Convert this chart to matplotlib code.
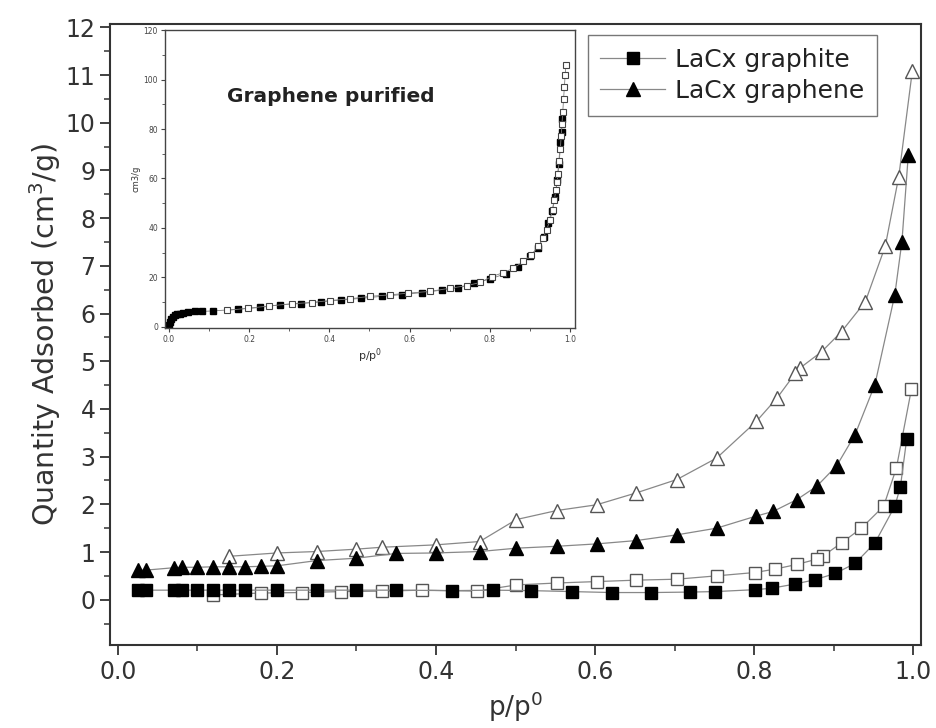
import matplotlib
matplotlib.use('Agg')
import matplotlib.pyplot as plt
from matplotlib.ticker import MultipleLocator

plt.rcParams['mathtext.default'] = 'regular'

# LaCx graphite: adsorption (filled) and desorption (open)
graphite_ads_p = [0.025, 0.035, 0.07, 0.08, 0.10, 0.12, 0.14, 0.16, 0.20, 0.25, 0.30, 0.35,
                  0.42, 0.472, 0.52, 0.571, 0.621, 0.671, 0.72, 0.751, 0.801, 0.822, 0.852,
                  0.877, 0.902, 0.927, 0.952, 0.977, 0.984, 0.992]
graphite_ads_v = [0.2, 0.2, 0.2, 0.2, 0.2, 0.2, 0.2, 0.2, 0.2, 0.2, 0.2, 0.2,
                  0.19, 0.2, 0.19, 0.17, 0.15, 0.15, 0.16, 0.17, 0.21, 0.24, 0.33,
                  0.42, 0.55, 0.76, 1.19, 1.96, 2.36, 3.37]
graphite_des_p = [0.998, 0.979, 0.963, 0.935, 0.91, 0.887, 0.879, 0.854, 0.826, 0.801,
                  0.753, 0.703, 0.652, 0.602, 0.552, 0.501, 0.451, 0.382, 0.332, 0.281,
                  0.231, 0.18, 0.12]
graphite_des_v = [4.42, 2.76, 1.96, 1.5, 1.19, 0.92, 0.85, 0.74, 0.64, 0.57,
                  0.5, 0.43, 0.41, 0.38, 0.35, 0.31, 0.18, 0.2, 0.18, 0.17,
                  0.15, 0.14, 0.1]

# LaCx graphene: adsorption (filled) and desorption (open)
graphene_ads_p = [0.025, 0.035, 0.07, 0.08, 0.10, 0.12, 0.14, 0.16, 0.18, 0.20, 0.25, 0.30,
                  0.35, 0.40, 0.455, 0.501, 0.552, 0.602, 0.652, 0.703, 0.753, 0.802,
                  0.824, 0.854, 0.879, 0.904, 0.927, 0.952, 0.977, 0.986, 0.994]
graphene_ads_v = [0.62, 0.62, 0.67, 0.68, 0.68, 0.69, 0.69, 0.69, 0.7, 0.71, 0.82, 0.87,
                  0.97, 0.98, 1.01, 1.08, 1.12, 1.17, 1.24, 1.36, 1.5, 1.75,
                  1.85, 2.1, 2.38, 2.81, 3.46, 4.51, 6.39, 7.51, 9.33]
graphene_des_p = [0.999, 0.982, 0.965, 0.94, 0.91, 0.885, 0.858, 0.852, 0.829, 0.803,
                  0.753, 0.703, 0.652, 0.602, 0.552, 0.501, 0.455, 0.40, 0.332, 0.30,
                  0.25, 0.20, 0.14]
graphene_des_v = [11.08, 8.87, 7.41, 6.25, 5.62, 5.2, 4.86, 4.75, 4.23, 3.74,
                  2.97, 2.52, 2.24, 1.99, 1.87, 1.68, 1.22, 1.15, 1.1, 1.06,
                  1.01, 0.98, 0.91]

# Inset: purified graphene isotherm (cm3/g)
inset_ads_p = [0.001, 0.003, 0.006, 0.01, 0.015, 0.02, 0.027, 0.035, 0.048, 0.065, 0.081,
               0.11, 0.173, 0.227, 0.277, 0.33, 0.38, 0.43, 0.48, 0.53, 0.58, 0.63, 0.68,
               0.72, 0.76, 0.80, 0.84, 0.87, 0.90, 0.92, 0.935, 0.946, 0.955, 0.963,
               0.968, 0.972, 0.976, 0.979, 0.981]
inset_ads_v = [0.5, 2.0, 3.2, 4.0, 4.6, 5.0, 5.3, 5.6, 6.0, 6.2, 6.2,
               6.4, 7.1, 7.8, 8.9, 9.4, 10.1, 10.8, 11.5, 12.3, 13.0, 13.8, 14.8,
               15.6, 17.5, 19.3, 21.5, 24.0, 28.5, 32.0, 36.5, 41.9, 47.0, 52.6,
               59.4, 66.0, 74.9, 78.9, 84.0]
inset_des_p = [0.99, 0.988, 0.986, 0.984, 0.982, 0.98, 0.978, 0.976, 0.973, 0.970,
               0.968, 0.965, 0.961, 0.957, 0.95, 0.942, 0.933, 0.921, 0.904, 0.884,
               0.859, 0.834, 0.805, 0.776, 0.742, 0.701, 0.651, 0.597, 0.551, 0.501,
               0.451, 0.401, 0.356, 0.306, 0.25, 0.198, 0.144]
inset_des_v = [106, 102, 97, 92, 87, 82, 77, 72, 67, 62,
               58.7, 55.4, 51.3, 47.3, 43.2, 39.2, 35.8, 32.5, 29.1, 26.4,
               23.7, 21.9, 20.3, 17.9, 16.6, 15.6, 14.3, 13.6, 12.9, 12.3,
               11.3, 10.6, 9.8, 9.3, 8.4, 7.5, 6.6]

line_kw = dict(color='#888888', linewidth=0.9)

fig = plt.figure(figsize=(9.36, 7.28), dpi=100)
ax = fig.add_axes([0.1175, 0.114, 0.8665, 0.853])

ax.plot(graphite_des_p, graphite_des_v, marker='s', markersize=8.5, markerfacecolor='white',
        markeredgecolor='#555555', markeredgewidth=1.0, **line_kw)
ax.plot(graphene_des_p, graphene_des_v, marker='^', markersize=10.5, markerfacecolor='white',
        markeredgecolor='#555555', markeredgewidth=1.0, **line_kw)
ax.plot(graphite_ads_p, graphite_ads_v, marker='s', markersize=8.5, markerfacecolor='black',
        markeredgecolor='black', label='LaCx graphite', **line_kw)
ax.plot(graphene_ads_p, graphene_ads_v, marker='^', markersize=10.5, markerfacecolor='black',
        markeredgecolor='black', label='LaCx graphene', **line_kw)

ax.set_xlim(-0.01, 1.01)
ax.set_ylim(-0.95, 12.07)
ax.xaxis.set_major_locator(MultipleLocator(0.2))
ax.xaxis.set_minor_locator(MultipleLocator(0.1))
ax.yaxis.set_major_locator(MultipleLocator(1))
ax.yaxis.set_minor_locator(MultipleLocator(0.5))
ax.tick_params(which='major', direction='out', length=7, width=1.3, labelsize=17, colors='#333333')
ax.tick_params(which='minor', direction='out', length=4, width=1.1, colors='#333333')
ax.xaxis.set_major_formatter(plt.FuncFormatter(lambda v, _: f'{v:.1f}'))
for sp in ax.spines.values():
    sp.set_linewidth(1.5)
    sp.set_color('#333333')
ax.set_xlabel('p/p$^0$', fontsize=19, color='#333333', labelpad=4)
ax.set_ylabel('Quantity Adsorbed (cm$^3$/g)', fontsize=20.5, color='#333333', labelpad=2)

leg = ax.legend(loc='upper right', bbox_to_anchor=(0.946, 0.982), borderaxespad=0,
                fontsize=18, frameon=True, fancybox=False, handlelength=2.6,
                handletextpad=0.4, borderpad=0.5, labelspacing=0.3)
leg.get_frame().set_edgecolor('#555555')
leg.get_frame().set_linewidth(1.0)
for t in leg.get_texts():
    t.set_color('#222222')

# Inset
ins = fig.add_axes([0.1763, 0.5495, 0.438, 0.409])
ins.plot(inset_des_p, inset_des_v, marker='s', markersize=5, markerfacecolor='white',
         markeredgecolor='#444444', markeredgewidth=0.8, color='#808080', linewidth=0.6)
ins.plot(inset_ads_p, inset_ads_v, marker='s', markersize=5, markerfacecolor='black',
         markeredgecolor='black', color='#808080', linewidth=0.6, zorder=1.9)
ins.set_xlim(-0.01, 1.0125)
ins.set_ylim(-0.5, 120)
ins.xaxis.set_major_locator(MultipleLocator(0.2))
ins.xaxis.set_minor_locator(MultipleLocator(0.1))
ins.yaxis.set_major_locator(MultipleLocator(20))
ins.yaxis.set_minor_locator(MultipleLocator(10))
ins.xaxis.set_major_formatter(plt.FuncFormatter(lambda v, _: f'{v:.1f}'))
ins.tick_params(which='major', direction='out', length=3, width=0.8, labelsize=5.5,
                colors='#444444', pad=2)
ins.tick_params(which='minor', direction='out', length=2, width=0.6, colors='#444444')
for sp in ins.spines.values():
    sp.set_linewidth(1.0)
    sp.set_color('#444444')
ins.set_xlabel('p/p$^0$', fontsize=8, color='#333333', labelpad=2)
ins.set_ylabel('cm3/g', fontsize=6, color='#333333', labelpad=2)
ins.text(0.145, 93, 'Graphene purified', fontsize=14.5, fontweight='bold', color='#222222',
         va='center', ha='left')

fig.savefig('out.png', dpi=100)
